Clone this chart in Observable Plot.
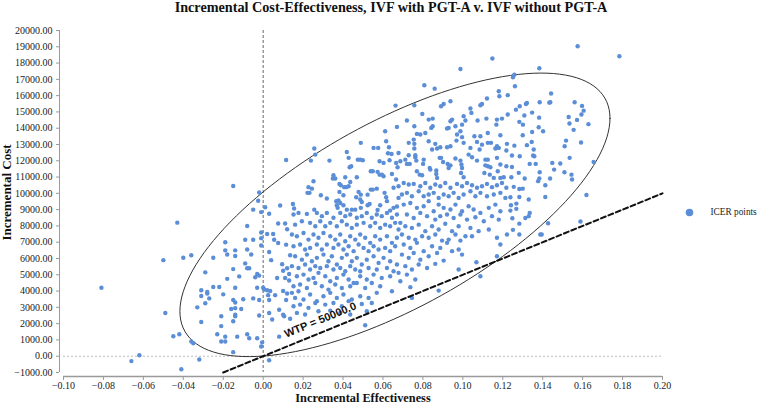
<!DOCTYPE html>
<html><head><meta charset="utf-8">
<script src="https://cdn.jsdelivr.net/npm/d3@7"></script>
<script src="https://cdn.jsdelivr.net/npm/@observablehq/plot@0.6"></script>
<style>html,body{margin:0;padding:0;background:#fff}svg{display:block}</style>
</head><body><div id="chart"></div>
<script>
const title = "Incremental Cost-Effectiveness, IVF with PGT-A v. IVF without PGT-A";
const xLabel = "Incremental Effectiveness";
const yLabel = "Incremental Cost";
const seriesName = "ICER points";
const xTicks = [-0.10,-0.08,-0.06,-0.04,-0.02,0.00,0.02,0.04,0.06,0.08,0.10,0.12,0.14,0.16,0.18,0.20];
const yTicks = [-1000,0,1000,2000,3000,4000,5000,6000,7000,8000,9000,10000,11000,12000,13000,14000,15000,16000,17000,18000,19000,20000];
const xDomain = [-0.1, 0.2];
const yDomain = [-1000, 20000];
const wtp = 50000;
const wtpEnds = [-0.02, 0.20];
const wtpLabelAt = 0.0286;
const ellipseCenter = [0.066, 8680];
const ellipseRadii = [0.1077, 8705];
const ellipsePhase = 0.822;

// ICER points [incremental effectiveness, incremental cost], read region by region
const pointsLeft = [
[-0.081,4200],[-0.066,-300],[-0.062,60],[-0.050,5900],[-0.049,2650],[-0.045,1230],[-0.043,8200],[-0.042,1350],[-0.041,-800],[-0.040,6050],
[-0.036,6200],[-0.036,900],[-0.035,800],[-0.032,-200],[-0.033,3000],[-0.031,2100],[-0.031,4050],[-0.031,3700],[-0.029,5150],[-0.028,3950],
[-0.028,3850],[-0.027,3550],[-0.029,3250],[-0.025,4250],[-0.025,6050],[-0.023,1350],[-0.022,4250],[-0.021,1850],[-0.021,2450],[-0.021,900],
[-0.019,900],[-0.020,3800],[-0.019,7000],[-0.019,6500],[-0.018,4750],[-0.018,6250],[-0.019,1200],[-0.016,2900],[-0.015,5350],[-0.015,2150],
[-0.015,250],[-0.014,6150],[-0.014,6500],[-0.014,4200],[-0.015,3450],[-0.014,3300],[-0.014,2950],[-0.014,2550],[-0.014,2450],[-0.013,1200],
[-0.012,4900],[-0.011,2900],[-0.010,3500],[-0.009,7150],[-0.008,6550],[-0.009,5700],[-0.008,5400],[-0.007,5400],[-0.008,1350],[-0.008,8000],
[-0.007,1100],[-0.006,6250],[-0.005,7150],[-0.005,9000],[-0.005,3550],[-0.004,4850],[-0.003,5050],[-0.002,4950],[-0.003,4200],[-0.003,1100],
[-0.002,2500],[-0.002,3450],[-0.001,600],[-0.0005,850],[-0.001,7600],[-0.001,6800],[0.000,4200],[0.0005,4100],[0.001,9150],[0.002,4050],
[0.002,7500],[0.003,8750],[0.0035,4000],[0.0025,3750],[0.003,3450],[0.003,-250],[0.003,6400],[0.004,5900],[0.0045,2250],[0.003,2650],
[0.005,7500],[0.006,3750],[0.007,4800],[0.0075,8150],[0.0075,6950],[0.008,1200],[0.0085,9250],[0.008,2850],[0.0095,5650],[0.010,5250],
[0.010,2550],[0.0105,2450],[0.010,4000],[0.011,8150],[0.0115,6850],[0.011,4800],[0.0115,3450],[0.012,3850],[0.012,5400],[0.013,4650],
[0.013,5050],[0.0135,6200],[0.0135,2300],
[-0.015,10450],[-0.002,10050],[-0.0025,9550],[0.0115,12050],[-0.001,8850],[0.012,7800],[-0.001,7250],[0.0055,7150]
];
const pointsUpperMid = [
[0.0663,15390],[0.0670,14080],[0.0611,13810],[0.0616,13200],[0.0630,12830],[0.0625,12460],[0.0576,12790],[0.0553,12790],[0.0489,13100],[0.0256,12750],
[0.0261,12380],[0.0239,12010],[0.0332,12010],[0.0419,12540],[0.0428,12180],[0.0441,11660],[0.0433,11600],[0.0474,12070],[0.0486,12070],[0.0499,12030],
[0.0549,11360],[0.0539,11360],[0.0573,11320],[0.0583,11970],[0.0603,11870],[0.0633,12030],[0.0643,12420],[0.0666,11870],[0.0673,11600],[0.0678,12480],
[0.0352,11110],[0.0361,10910],[0.0349,10910],[0.0382,10580],[0.0389,10500],[0.0406,10380],[0.0416,10380],[0.0428,10440],[0.0436,10700],[0.0411,10990],
[0.0469,10990],[0.0252,10740],[0.0227,10380],[0.0244,10290],[0.0222,10030],[0.0232,10030],[0.0289,9880],[0.0319,9680],[0.0382,10090],[0.0402,9880],
[0.0478,10090],[0.0489,9920],[0.0486,9620],[0.0494,9470],[0.0466,9760],[0.0523,9920],[0.0539,10230],[0.0549,10230],[0.0569,10290],[0.0583,11150],
[0.0603,11050],[0.0595,11150],[0.0645,11190],[0.0666,10850],[0.0678,10440],[0.0653,10340],[0.0608,10030],[0.0616,9760],[0.0620,9520],[0.0678,9720],
[0.0149,9350],[0.0155,9070],[0.0256,9000],[0.0366,9520],[0.0377,9560],[0.0386,9410],[0.0369,9270],[0.0373,9110],[0.0402,9270],[0.0419,9000],
[0.0444,9000],[0.0461,9000],[0.0489,9110],[0.0533,9350],[0.0523,9270],[0.0586,9270],[0.0573,8980],[0.0653,9110],[0.0670,9190],[0.0636,8940]
];
const pointsCore = [
[0.0152,8700],[0.0177,8800],[0.0219,8740],[0.0269,8800],[0.0294,8600],[0.0319,8800],[0.0352,8500],[0.0386,8800],[0.0411,8600],[0.0436,8700],
[0.0469,8500],[0.0494,8600],[0.0519,8800],[0.0544,8500],[0.0569,8700],[0.0594,8600],[0.0620,8800],[0.0645,8500],[0.0670,8700],
[0.0160,8080],[0.0194,8290],[0.0235,8190],[0.0261,7980],[0.0286,8290],[0.0311,7980],[0.0336,8190],[0.0369,7980],[0.0394,8290],[0.0419,8080],
[0.0444,7880],[0.0469,8080],[0.0503,8190],[0.0536,7980],[0.0561,8190],[0.0586,7880],[0.0611,8080],[0.0636,7980],[0.0661,8190],[0.0678,7780],
[0.0144,7470],[0.0169,7370],[0.0202,7570],[0.0227,7160],[0.0252,7470],[0.0277,7270],[0.0302,7570],[0.0336,7370],[0.0361,7160],[0.0386,7470],
[0.0411,7060],[0.0436,7370],[0.0461,7160],[0.0486,7470],[0.0511,7270],[0.0536,6960],[0.0561,7370],[0.0586,7160],[0.0620,7370],[0.0645,6960],[0.0670,7270],
[0.0152,6750],[0.0185,6860],[0.0210,6550],[0.0235,6650],[0.0269,6860],[0.0294,6550],[0.0319,6860],[0.0352,6650],[0.0377,6860],[0.0402,6550],
[0.0428,6750],[0.0453,6450],[0.0478,6860],[0.0503,6650],[0.0528,6450],[0.0553,6750],[0.0578,6550],[0.0611,6650],[0.0636,6450],[0.0661,6750],
[0.0160,6140],[0.0194,5930],[0.0219,6240],[0.0244,5830],[0.0269,6040],[0.0302,6240],[0.0327,5830],[0.0344,6140],[0.0369,5630],[0.0394,6040],
[0.0419,6240],[0.0444,5830],[0.0469,6040],[0.0494,5630],[0.0519,5930],[0.0553,6140],[0.0578,5730],[0.0603,6040],[0.0636,5830],[0.0670,5630],
[0.0144,5530],[0.0177,5420],[0.0210,5630],[0.0235,5320],[0.0261,5530],[0.0286,5420],[0.0319,5530],[0.0352,5320],[0.0386,5420],[0.0411,5220],
[0.0436,5530],[0.0461,5320],[0.0486,5220],[0.0528,5420],[0.0569,5320],[0.0620,5420],[0.0653,5220],
[0.0169,4910],[0.0202,5010],[0.0227,4710],[0.0252,4810],[0.0277,5120],[0.0311,4910],[0.0336,4600],[0.0369,4810],[0.0402,5010],[0.0428,4710],
[0.0453,4500],[0.0486,4910],[0.0519,4710],[0.0553,5010],[0.0594,4810],[0.0636,4910],[0.0678,5120],
[0.0152,4300],[0.0185,4400],[0.0219,4190],[0.0261,4500],[0.0294,4300],[0.0327,4090],[0.0361,4400],[0.0394,4190],[0.0436,4300],[0.0469,4500],
[0.0511,4190],[0.0544,4500],[0.0586,4300],[0.0144,3890],[0.0177,3990],
[0.0160,3580],[0.0202,3480],[0.0235,3790],[0.0269,3380],[0.0302,3680],[0.0336,3890],[0.0369,3580],[0.0402,3790],[0.0444,3480],[0.0486,3680],
[0.0528,3580],[0.0569,3890],[0.0645,3990],[0.0152,3070],[0.0185,3170],[0.0227,2970],[0.0261,3270],[0.0311,3170],[0.0352,3270],[0.0394,3070],
[0.0428,3380],[0.0494,3210],[0.0544,3270],
[0.0169,2660],[0.0210,2560],[0.0277,2760],[0.0336,2800],[0.0386,2660],[0.0436,2560],[0.0511,1900],[0.0519,2760]
];
const pointsUpperRight = [
[0.1148,18280],[0.0988,17640],[0.0807,16640],[0.0859,16430],[0.0757,15410],[0.0891,15350],[0.0904,15490],[0.0938,15660],[0.0797,14880],[0.0720,14470],
[0.0829,14530],[0.0849,14590],[0.0849,14120],[0.0842,14020],[0.0757,14120],[0.0770,13650],[0.0787,13610],[0.0812,13710],[0.0754,13300],[0.0729,13100],
[0.0757,13040],[0.0757,12750],[0.0829,13200],[0.0862,13040],[0.0846,12690],[0.0871,12750],[0.0887,12830],[0.0921,12830],[0.0938,12890],[0.0938,14430],
[0.0946,14530],[0.0921,13980],[0.0929,14020],[0.0963,14120],[0.0971,13610],[0.0988,13810],[0.0996,14220],[0.1004,14740],[0.1013,14470],[0.0996,13450],
[0.0968,13240],[0.1004,13100],[0.1038,15210],[0.1043,14940],[0.1088,15410],[0.1096,15490],[0.1074,14470],[0.1118,14590],[0.1121,15820],[0.1171,14530],
[0.1196,14590],[0.1180,16270],[0.1183,15960],[0.1225,16030],[0.1225,14840],[0.1168,14220],[0.1188,13570],[0.1058,13510],[0.1088,13510],[0.1125,13710],
[0.1071,13160],[0.1096,12990],[0.1125,13100],[0.1141,13100],[0.1038,12790],[0.1084,12690],[0.1163,12750],[0.1171,12890],[0.1180,12790],[0.1221,13040],
[0.1218,12630],[0.0687,11970],[0.0712,12070],[0.0729,12340],[0.0762,12340],[0.0762,12220],[0.0720,11810],[0.0734,11810],[0.0767,12010],[0.0804,12070],
[0.0801,11810],[0.0770,11360],[0.0784,11150],[0.0796,11110],[0.0834,11560],[0.0837,11460],[0.0867,11400],[0.0867,11190],[0.0871,10950],[0.0884,12180],
[0.0891,12180],[0.0901,11930],[0.0924,11810],[0.0938,11720],[0.0929,11560],[0.0963,12140],[0.0988,12010],[0.0993,11770],[0.0996,11560],[0.0991,11250],
[0.1004,10990],[0.1029,12380],[0.1046,12220],[0.1071,12010],[0.1113,12070],[0.1125,12070],[0.1113,11720],[0.1125,11660],[0.1138,11600],[0.1171,12180],
[0.1188,11770],[0.1175,11360],[0.1218,11660],[0.1108,11250],[0.1135,11150],[0.1155,10950],[0.1188,10950],[0.1205,10990]
];
const pointsLowerRight = [
[0.0704,10640],[0.0729,10540],[0.0754,10580],[0.0787,10440],[0.0812,10640],[0.0837,10340],[0.0862,10540],[0.0887,10440],[0.0912,10640],[0.0938,10340],
[0.0971,10580],[0.0996,10440],[0.1021,10640],[0.1046,10500],[0.1071,10340],[0.1096,10440],[0.1121,10580],[0.1146,10380],[0.1171,10500],[0.1196,10640],[0.1218,10340],
[0.0695,9930],[0.0720,10030],[0.0745,9820],[0.0779,10130],[0.0804,9820],[0.0829,9930],[0.0854,10030],[0.0879,9720],[0.0904,9930],[0.0929,9820],
[0.0954,10030],[0.0979,9720],[0.1004,9930],[0.1038,10130],[0.1063,9820],[0.1088,10030],[0.1121,9820],[0.1155,9930],[0.1188,10030],[0.1213,9720],
[0.0704,9310],[0.0737,9410],[0.0770,9110],[0.0804,9210],[0.0829,9520],[0.0854,8900],[0.0879,9310],[0.0904,9110],[0.0938,9010],[0.0963,9310],
[0.0996,8900],[0.1029,9210],[0.1054,9010],[0.1088,8800],[0.1130,9110],[0.1163,9310],[0.1188,8900],
[0.0720,8700],[0.0754,8490],[0.0787,8800],[0.0821,8600],[0.0862,8390],[0.0887,8600],[0.0921,8700],[0.0954,8490],[0.0988,8700],[0.1021,8390],
[0.1063,8530],[0.1105,8290],[0.1146,8600],[0.1180,8390],
[0.0687,8190],[0.0712,7980],[0.0745,7880],[0.0779,8080],[0.0812,7680],[0.0846,7980],[0.0879,7780],[0.0912,8130],[0.0946,7680],[0.0979,7980],
[0.1013,7370],[0.1038,7880],[0.1079,7680],[0.1130,7780],[0.1171,7270],[0.1221,7470],
[0.0695,7470],[0.0729,7270],[0.0762,7160],[0.0796,7370],[0.0829,7270],[0.0862,7470],[0.0896,7100],[0.0929,7160],[0.0963,7470],[0.0988,7100],[0.1046,7370],
[0.0704,6860],[0.0737,6650],[0.0770,6960],[0.0804,6450],[0.0846,6750],[0.0887,6650],[0.0921,6960],[0.0946,6450],[0.0979,6550],[0.0996,6240],
[0.0695,6240],[0.0729,6040],[0.0754,6340],[0.0787,5930],[0.0829,6140],[0.0871,6340],[0.0904,5870],
[0.0712,5530],[0.0745,5320],[0.0779,5630],[0.0821,5420],[0.0862,5670],[0.0720,5010],[0.0762,4710],[0.0687,4600],[0.0737,4240],[0.0745,3580],
[0.0879,4030],[0.0979,5320],[0.1068,5770],[0.1088,4910],[0.1171,6140],[0.1188,6860]
];
const pointsFarRight = [
[0.1575,19030],[0.1784,18420],[0.1383,17680],[0.1258,17290],[0.1251,17130],[0.1261,16580],[0.1442,16130],[0.1438,15590],[0.1433,15570],[0.1385,15590],
[0.1321,15550],[0.1316,15490],[0.1285,15350],[0.1266,15140],[0.1347,14960],[0.1308,14780],[0.1382,14650],[0.1283,14390],[0.1301,14220],[0.1380,14060],
[0.1402,13810],[0.1347,13770],[0.1300,13570],[0.1345,13160],[0.1321,12960],[0.1258,12930],[0.1355,12690],[0.1352,12320],[0.1358,12280],[0.1285,12280],
[0.1246,12320],[0.1560,15590],[0.1597,15370],[0.1605,15080],[0.1594,14840],[0.1572,14510],[0.1530,14690],[0.1534,14290],[0.1555,13900],[0.1629,14250],
[0.1517,13240],[0.1510,12890],[0.1592,13120],[0.1535,12180],
[0.1246,11620],[0.1335,11810],[0.1365,11810],[0.1448,11870],[0.1488,11830],[0.1655,11930],[0.1280,11260],[0.1385,11300],[0.1457,11460],[0.1509,11300],
[0.1544,11150],[0.1547,10850],[0.1243,10990],[0.1310,10910],[0.1383,10910],[0.1377,10750],[0.1437,10910],[0.1255,10400],[0.1283,10270],[0.1300,10290],
[0.1413,10500],[0.1238,9760],[0.1283,9780],[0.1413,9780],[0.1330,9620],[0.1619,9900],[0.1268,9370],[0.1241,9270],[0.1268,9050],[0.1238,8940],
[0.1335,8800],[0.1330,8600],[0.1313,8490],[0.1248,8470],[0.1283,8140],[0.1427,8160],[0.1589,8270],[0.1251,7760],[0.1283,7470],[0.1388,7470],[0.1395,7470]
];

const icer = [...pointsLeft, ...pointsUpperMid, ...pointsCore, ...pointsUpperRight, ...pointsLowerRight, ...pointsFarRight]
  .map(([e, c]) => ({effect: e, cost: c}));

const ellipse = d3.range(0, 145).map(i => {
  const t = (i / 144) * 2 * Math.PI;
  return {x: ellipseCenter[0] + ellipseRadii[0] * Math.cos(t), y: ellipseCenter[1] + ellipseRadii[1] * Math.cos(t - ellipsePhase)};
});
const wtpLine = wtpEnds.map(x => ({x, y: wtp * x}));

const W = 759, H = 404, mL = 63, mR = 97, mT = 30, mB = 32;
const pxPerX = (W - mL - mR) / (xDomain[1] - xDomain[0]);
const pxPerY = (H - mT - mB) / (yDomain[1] - yDomain[0]);
const wtpAngle = -Math.atan(wtp * pxPerY / pxPerX) * 180 / Math.PI;

const serif = "'Liberation Serif','Times New Roman',Times,serif";
const dotColor = "#5b8ed6";
const fmt = d3.format(".2f");

const chart = Plot.plot({
  width: W, height: H,
  marginLeft: mL, marginRight: mR, marginTop: mT, marginBottom: mB,
  x: {domain: xDomain, label: null},
  y: {domain: yDomain, label: null},
  style: {fontFamily: serif, fontSize: "10px", color: "#222", background: "#fff", overflow: "visible"},
  marks: [
    Plot.ruleY([0], {stroke: "#bdbdbd", strokeWidth: 1, strokeDasharray: "2,2"}),
    Plot.ruleX([0], {stroke: "#666", strokeWidth: 1, strokeDasharray: "3,2"}),
    Plot.ruleX([xDomain[0]], {dx: -4, stroke: "#9a9a9a", strokeWidth: 1}),
    Plot.ruleY([yDomain[0]], {dy: 4, stroke: "#9a9a9a", strokeWidth: 1.5}),
    Plot.axisY(yTicks, {anchor: "left", dx: -4, tickSize: 3, tickPadding: 4, tickFormat: fmt, label: null, stroke: "#9a9a9a", fill: "#222", fontFamily: serif}),
    Plot.axisX(xTicks, {anchor: "bottom", dy: 4, tickSize: 4, tickPadding: 1, tickFormat: fmt, label: null, stroke: "#9a9a9a", fill: "#222", fontFamily: serif}),
    Plot.line(ellipse, {x: "x", y: "y", curve: "linear-closed", stroke: "#333", strokeWidth: 1}),
    Plot.dot(icer, {x: "effect", y: "cost", r: 2.2, fill: dotColor, stroke: "none"}),
    Plot.line(wtpLine, {x: "x", y: "y", stroke: "#111", strokeWidth: 2, strokeDasharray: "5,3"}),
    Plot.text([`WTP = ${wtp.toFixed(1)}`], {x: () => wtpLabelAt, y: () => wtp * wtpLabelAt, text: d => d, rotate: wtpAngle, dy: -13,
      textAnchor: "middle", fontFamily: "'Liberation Sans',Arial,sans-serif", fontWeight: "bold", fontSize: 11, fill: "#111"}),
    Plot.text([title], {text: d => d, frameAnchor: "top", dx: 28, dy: -19, textAnchor: "middle", lineAnchor: "bottom", fontWeight: "bold", fontSize: 14.2, fill: "#111"}),
    Plot.text([xLabel], {text: d => d, frameAnchor: "bottom", dy: 29.3, textAnchor: "middle", lineAnchor: "bottom", fontWeight: "bold", fontSize: 12.3, fill: "#111"}),
    Plot.text([yLabel], {text: d => d, frameAnchor: "left", dx: -52.5, dy: -9, rotate: -90, textAnchor: "middle", lineAnchor: "bottom", fontWeight: "bold", fontSize: 13, fill: "#111"}),
    Plot.dot([seriesName], {frameAnchor: "right", dx: 27, dy: 11, r: 3.8, fill: dotColor, stroke: "none"}),
    Plot.text([seriesName], {text: d => d, frameAnchor: "right", dx: 48, dy: 11, textAnchor: "start", fontSize: 9.3, fill: "#222"})
  ]
});
document.getElementById("chart").appendChild(chart);
</script>
</body></html>
